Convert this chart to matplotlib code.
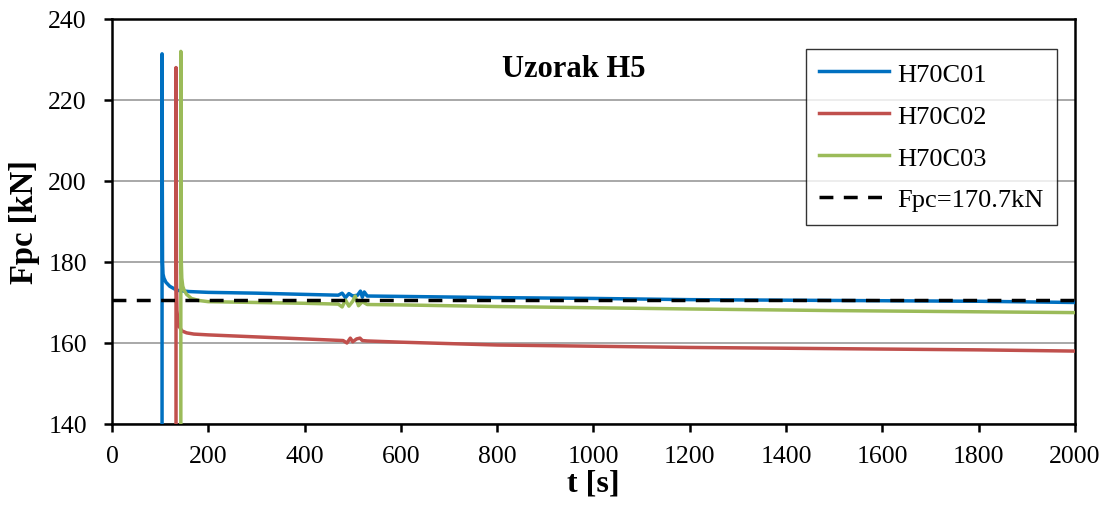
import matplotlib.pyplot as plt

# blue - H70C01
t1 = [104, 104, 104.5, 105, 106, 108, 112, 120, 135, 160, 200, 300, 400, 470, 478, 485, 492, 500, 510, 516, 520, 524, 530, 600, 800, 1000, 1200, 1500, 1800, 2000]
f1 = [138, 231.4, 200, 180, 177, 176, 175, 174, 173, 172.7, 172.5, 172.3, 172.0, 171.8, 172.3, 171.2, 172.2, 171.6, 171.8, 172.8, 171.3, 172.6, 171.6, 171.5, 171.2, 171.0, 170.7, 170.5, 170.3, 170.0]

# red - H70C02
t2 = [133, 133, 133.5, 134, 135, 137, 140, 145, 155, 170, 200, 300, 400, 480, 488, 495, 500, 508, 515, 520, 530, 600, 800, 1000, 1200, 1500, 1800, 2000]
f2 = [138, 228, 200, 175, 168, 165, 164, 163, 162.5, 162.2, 162.0, 161.5, 161.0, 160.6, 160.0, 161.2, 160.3, 161.0, 161.2, 160.6, 160.5, 160.2, 159.5, 159.2, 158.9, 158.6, 158.3, 158.0]

# green - H70C03
t3 = [143, 143, 143.5, 144, 145, 147, 150, 155, 165, 180, 200, 300, 400, 470, 478, 485, 492, 500, 505, 512, 520, 530, 600, 800, 1000, 1200, 1500, 1800, 2000]
f3 = [138, 232, 200, 180, 176, 174, 173, 172, 171, 170.5, 170.2, 170.0, 169.8, 169.6, 168.9, 170.6, 169.1, 170.3, 171.6, 169.2, 170.2, 169.5, 169.4, 169.0, 168.7, 168.4, 168.0, 167.7, 167.5]

fpc = 170.7
labels = ['H70C01', 'H70C02', 'H70C03', 'Fpc=170.7kN']
colors = ['#0070C0', '#C0504D', '#9BBB59']

plt.rcParams['font.family'] = ['Liberation Serif', 'DejaVu Serif']

fig = plt.figure(figsize=(11.12, 5.10), dpi=100)
ax = fig.add_axes([0.1007, 0.1667, 0.8660, 0.7941])

ax.plot(t1, f1, color=colors[0], lw=2.5, label=labels[0], zorder=3)
ax.plot(t2, f2, color=colors[1], lw=2.5, label=labels[1], zorder=3)
ax.plot(t3, f3, color=colors[2], lw=2.5, label=labels[2], zorder=3)
ax.plot([0, 2000], [fpc, fpc], color='black', lw=2.5, ls=(0, (4, 3)), label=labels[3], zorder=4)

ax.set_xlim(0, 2000)
ax.set_ylim(140, 240)
ax.set_xticks(range(0, 2001, 200))
ax.set_yticks(range(140, 241, 20))
ax.grid(axis='y', color='#999999', lw=1.2)
ax.set_axisbelow(True)
for s in ax.spines.values():
    s.set_linewidth(1.8)
ax.tick_params(labelsize=18.5, width=1.8, length=6, direction='out')
ax.tick_params(axis='x', pad=9)
ax.tick_params(axis='y', pad=12)

ax.set_xlabel('t [s]', fontsize=23, fontweight='bold', labelpad=1)
ax.set_ylabel('Fpc [kN]', fontsize=23.5, fontweight='bold', labelpad=6)
ax.text(958, 227.7, 'Uzorak H5', fontsize=22, fontweight='bold', ha='center', va='center')

leg = ax.legend(loc='upper right', bbox_to_anchor=(0.981, 0.926), borderaxespad=0, fontsize=19,
                frameon=True, fancybox=False, edgecolor='black', handlelength=2.65,
                labelspacing=0.7, borderpad=0.5, handletextpad=0.3)
leg.get_frame().set_linewidth(1.0)

fig.savefig('out.png', dpi=100)
